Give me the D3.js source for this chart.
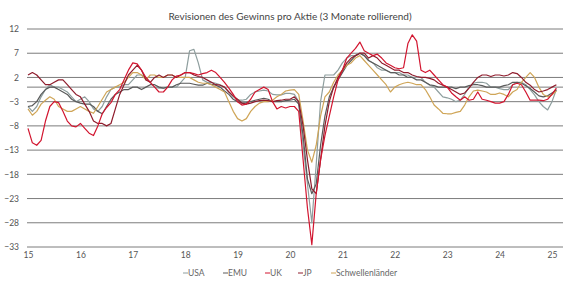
<!DOCTYPE html>
<html>
<head>
<meta charset="utf-8">
<script src="https://cdn.jsdelivr.net/npm/d3@7/dist/d3.min.js"></script>
<style>
  body { margin: 0; background: #fff; }
  text { font-family: Lato, "Open Sans", sans-serif; }
</style>
</head>
<body>
<svg id="chart" width="580" height="290"></svg>
<script>
// monthly readings, first point = Jan 2015 (axis label "15")
const firstYear = 15;

const usa = [
  -4, -5, -4, -2, -0.5, 0.5, 0, 0, -0.5, -1, -2, -3,
  -2.5, -2, -3, -4.5, -5, -4, -2, -0.5, 0, 0, 0.5, 0.5,
  1.5, 2.5, 2.5, 2, 1, 0, -0.2, -0.2, 0, 0, 0, 1,
  2, 7.5, 7.8, 5, 1.5, 1, 1, 0.8, 0.5, 0, -1, -2,
  -2.7, -2.7, -2.5, -1.5, -1, -0.8, -0.6, -0.8, -1.5, -1.6, -1.6, -1.3,
  -1.3, -1.5, -3, -12, -20, -28, -16, -3, 2.5, 2.5, 2.5, 3.5,
  5, 6, 6.5, 6.5, 7, 6.5, 5.5, 5, 4, 3.5, 3.5, 3,
  3, 3, 2.5, 2.5, 2, 2, 2, 1, 0.4, 0, -1, -2,
  -2.2, -2.5, -3, -2.7, -1.5, 0, 0.8, 1, 1, 0.8, 0, 0,
  -0.3, -0.5, -0.5, 0.5, 1, 1, 0.5, -0.5, -1.6, -3, -4, -4.7,
  -3, -0.5
];

const emu = [
  -4, -3.8, -3, -1.5, -0.5, 0, 0, -0.5, -1, -1.5, -2.5, -3,
  -3.3, -3.5, -3.5, -4, -5, -5.5, -4, -2.5, -1.5, -1, -0.5, -0.5,
  0, 0, -0.5, 0, 0.5, 0.5, 0, -0.2, 0, 0, 0.5, 0.8,
  0.8, 0.8, 0.6, 0.4, 0.4, 0.8, 0.6, 0.4, 0, -0.8, -1.5, -2.5,
  -3, -3.3, -3.2, -3, -2.7, -2.5, -2.3, -2.5, -3, -3, -3, -2.8,
  -2.7, -2.5, -3.5, -10, -19, -22, -20, -12, -6, -2, 0, 1.5,
  3, 4.5, 5.5, 6.5, 7, 6.5, 5.5, 5, 4.5, 4, 3.5, 3,
  3, 2.5, 2.5, 2, 2, 1.5, 1.5, 1, 0.5, 0.3, 0, 0,
  0, 0, -0.3, 0, 0, 0.3, 0.5, 0.5, 0.3, 0, 0, 0,
  0, 0.3, 0.5, 1, 1, 0.8, 0.3, -0.3, -1, -1.8, -2, -1.8,
  -1.2, -0.6
];

const uk = [
  -8.5, -11.5, -12, -11, -7, -4, -3, -3.2, -5, -7, -8, -8.2,
  -7.5, -8.5, -9.5, -10, -8, -5.5, -4.2, -3.2, -1.5, -0.5, 1.5, 3.5,
  5, 4.8, 3.5, 2, 1, 0, -1, -1, 0, 1.5, 2.3, 2.5,
  3, 3, 2.8, 2.5, 2.8, 3, 3.5, 3, 2, 1, -0.2, -1.5,
  -3, -3.7, -3.5, -2.5, -1, -0.5, 0, -0.5, -3, -4.5, -4, -4.3,
  -4, -4, -5, -15, -25, -32.5, -22, -15, -10, -6, -2, 1.5,
  3.5, 6, 7, 8, 9.3, 7.5, 7, 6.5, 6.8, 6, 5, 4.5,
  4, 3.8, 4, 9, 10.8, 9.5, 3.5, 3, 3.5, 2.5, 1.5, 0.5,
  0, -1.2, -2, -2.7, -2, -2.7, -2.5, -1, -2.5, -2.7, -3, -3.3,
  -3.3, -3, -1.5, 0.5, 0.8, 0.5, -1, -2.7, -2.7, -2.7, -2.8, -2.5,
  -1.5, -0.2
];

const jp = [
  2.5, 3, 2.5, 1.5, 0.5, 0.5, 1, 1.5, 1.5, 0.5, -0.5, -1.5,
  -2, -3.5, -5, -7, -7.5, -7.5, -8, -7.5, -4.5, -1.5, 0.5, 2.5,
  3.5, 4.5, 3.5, 1.5, 1, 2, 2.5, 2, 2.5, 2.5, 2, 2.5,
  3, 3, 2.5, 2.2, 2, 1.5, 1, 0.5, 0.4, 0, -1, -1.8,
  -2.5, -3.3, -3.5, -3.3, -3, -2.8, -2.7, -2.8, -3, -2.8, -2.7, -2.5,
  -2.5, -2, -3, -8, -15, -21, -22, -15, -8, -3, 0, 2,
  3.5, 5, 6, 6.5, 7, 7, 6, 6.5, 6, 5, 4.5, 4,
  3.5, 3.5, 3, 3, 2.5, 2.2, 2, 2, 1.8, 1.5, 0.8, 0.4,
  0, -0.5, -1, -1.5, -1.2, -0.2, 1, 2, 2.5, 2.5, 2.2, 2.5,
  2.5, 2.3, 2.5, 3, 2.8, 2, 1, 0.4, -0.5, -1, -0.8, -0.5,
  0, 0.5
];

const em = [
  -4.5, -5.8, -5, -3.5, -2.7, -2, -2.5, -4, -4.5, -5, -5, -4.5,
  -4, -4.5, -5, -5.4, -4, -2.5, -1, -0.5, 0, 0.5, 1, 2,
  3, 3, 2.5, 1.5, 2.5, 2.5, 2, 2, 2.5, 2.5, 2, 2,
  2, 2, 1.5, 1, 0.8, 0.8, 0.5, 0, -0.5, -1, -3, -5,
  -6.5, -7, -6.5, -5, -4, -3.3, -3, -3, -2.7, -2, -1.5, -0.8,
  -0.6, -0.5, -1.5, -7, -13, -15.5, -12, -6, -2, -1, 1, 2.5,
  3.5, 4.5, 5, 6, 6.5, 5.5, 4.5, 3.5, 2.5, 1.5, 0.5, -1,
  0, 0.5, 0.8, 1, 0.8, 0.5, 0.5, -0.5, -2, -3.7, -4.5, -5.4,
  -5.5, -5.5, -5.2, -5, -3.7, -2, -0.8, -0.6, -0.8, -1, -1.5, -1.5,
  -1.2, -1.5, -2, -1, -0.5, 1, 2, 3, 2, 0, -1.5, -2,
  -1.6, -0.8
];

const seriesNames = ["USA", "EMU", "UK", "JP", "Schwellenländer"];
const seriesValues = [usa, emu, uk, jp, em];
const seriesColors = ["#8e9e9e", "#5a5a5a", "#d2152f", "#8f1c2c", "#cfa557"];
const drawOrder = [0, 1, 4, 3, 2];

const yTicks = [12, 7, 2, -3, -8, -13, -18, -23, -28, -33];
const xTicks = [15, 16, 17, 18, 19, 20, 21, 22, 23, 24, 25];
const title = "Revisionen des Gewinns pro Aktie (3 Monate rollierend)";

const svg = d3.select("#chart");

const x = d3.scaleLinear().domain([15, 25]).range([28, 552]);
const y = d3.scaleLinear().domain([-33, 12]).range([247, 29]);
const plotRight = 563;

svg.append("text")
  .attr("x", 290).attr("y", 20)
  .attr("text-anchor", "middle")
  .attr("font-size", 10)
  .attr("fill", "#444")
  .text(title);

// horizontal grid lines, plus the zero line
const grid = svg.append("g").attr("stroke", "#7c7c7c").attr("stroke-width", 1);
grid.selectAll("line")
  .data(yTicks.concat([0]))
  .join("line")
    .attr("x1", x(15) - 1).attr("x2", plotRight)
    .attr("y1", d => y(d)).attr("y2", d => y(d));

const yAxis = d3.axisLeft(y).tickValues(yTicks).tickSize(0).tickPadding(0);
svg.append("g")
  .attr("transform", "translate(19,0)")
  .call(yAxis)
  .call(g => g.select(".domain").remove())
  .call(g => g.selectAll("text")
    .attr("font-family", "Lato, 'Open Sans', sans-serif")
    .attr("font-size", 8.5).attr("fill", "#555"));

const xAxis = d3.axisBottom(x).tickValues(xTicks).tickFormat(d3.format("d")).tickSize(0).tickPadding(0);
svg.append("g")
  .attr("transform", "translate(0,252)")
  .call(xAxis)
  .call(g => g.select(".domain").remove())
  .call(g => g.selectAll("text")
    .attr("font-family", "Lato, 'Open Sans', sans-serif")
    .attr("font-size", 8.5).attr("fill", "#555"));

const line = d3.line()
  .x((d, i) => x(firstYear + i / 12))
  .y(d => y(d));

svg.append("g")
  .attr("fill", "none")
  .attr("stroke-width", 1.2)
  .attr("stroke-linejoin", "round")
  .selectAll("path")
  .data(drawOrder)
  .join("path")
    .attr("stroke", k => seriesColors[k])
    .attr("d", k => line(seriesValues[k]));

// legend
const legendX = [183, 223, 265, 298, 331];
const legend = svg.append("g")
  .selectAll("g")
  .data(seriesNames)
  .join("g")
    .attr("transform", (d, i) => `translate(${legendX[i]},273)`);
legend.append("line")
  .attr("x1", 0).attr("x2", 5)
  .attr("stroke", (d, i) => seriesColors[i])
  .attr("stroke-width", 1);
legend.append("text")
  .attr("x", 5).attr("dy", "0.35em")
  .attr("font-size", 8.5)
  .attr("fill", "#666")
  .text(d => d);
</script>
</body>
</html>
